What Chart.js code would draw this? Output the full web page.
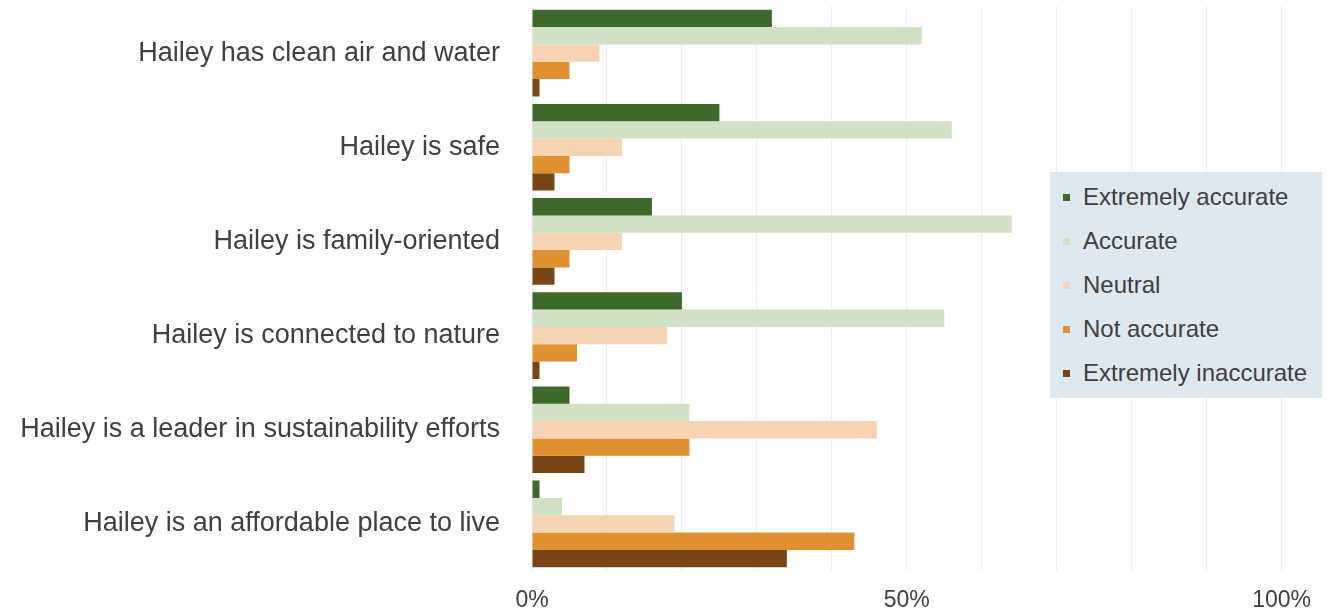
<!DOCTYPE html>
<html>
<head>
<meta charset="utf-8">
<script src="https://cdn.jsdelivr.net/npm/chart.js@4"></script>
<style>
  html, body { margin: 0; padding: 0; background: #fff; }
  #wrap { position: relative; width: 1327px; height: 613px; }
  #legend {
    position: absolute; left: 1050px; top: 172px; width: 272px; height: 226px;
    background: #dde8f1; box-sizing: border-box; padding: 3px 0 0 13px;
    font-family: "Liberation Sans", Arial, sans-serif; font-size: 24px; color: #404040;
  }
  #legend div { height: 44px; display: flex; align-items: center; }
  #legend span.sq { width: 7px; height: 7px; margin-right: 13px; display: inline-block; }
</style>
</head>
<body>
<div id="wrap">
  <canvas id="myChart" width="1327" height="613"></canvas>
  <div id="legend"></div>
</div>
<script>
// categories and series
const categories = [
  'Hailey has clean air and water',
  'Hailey is safe',
  'Hailey is family-oriented',
  'Hailey is connected to nature',
  'Hailey is a leader in sustainability efforts',
  'Hailey is an affordable place to live'
];
const seriesNames = ['Extremely accurate', 'Accurate', 'Neutral', 'Not accurate', 'Extremely inaccurate'];
const extremelyAccurate = [32, 25, 16, 20, 5, 1];
const accurate = [52, 56, 64, 55, 21, 4];
const neutral = [9, 12, 12, 18, 46, 19];
const notAccurate = [5, 5, 5, 6, 21, 43];
const extremelyInaccurate = [1, 3, 3, 1, 7, 34];
const colors = ['#3d6a2a', '#d0e1c5', '#f6d4b3', '#df9131', '#774516'];
const tickLabels = { 0: '0%', 50: '50%', 100: '100%' };

const values = [extremelyAccurate, accurate, neutral, notAccurate, extremelyInaccurate];

const ctx = document.getElementById('myChart');
new Chart(ctx, {
  type: 'bar',
  data: {
    labels: categories,
    datasets: seriesNames.map((name, i) => ({
      label: name,
      data: values[i],
      backgroundColor: colors[i],
      borderWidth: 0,
      barPercentage: 1.0,
      categoryPercentage: 0.92
    }))
  },
  options: {
    indexAxis: 'y',
    responsive: false,
    animation: false,
    layout: { padding: { top: 6, right: 41, bottom: 0, left: 0 } },
    plugins: { legend: { display: false }, tooltip: { enabled: false } },
    scales: {
      x: {
        min: 0, max: 100,
        afterFit: (s) => { s.height = 42; },
        border: { display: false },
        grid: { color: '#eeeeee', drawTicks: false },
        ticks: {
          stepSize: 10, padding: 16, maxRotation: 0, autoSkip: false,
          color: '#404040',
          font: { family: 'Liberation Sans', size: 23 },
          callback: (v) => tickLabels[v] || ''
        }
      },
      y: {
        afterFit: (s) => { s.width = 532; s.paddingTop = 0; s.paddingBottom = 0; },
        border: { display: false },
        grid: { display: false },
        ticks: {
          padding: 24,
          color: '#404040',
          font: { family: 'Liberation Sans', size: 27 }
        }
      }
    }
  }
});

// legend box
const leg = document.getElementById('legend');
seriesNames.forEach((name, i) => {
  const row = document.createElement('div');
  const sq = document.createElement('span');
  sq.className = 'sq';
  sq.style.background = colors[i];
  row.appendChild(sq);
  row.appendChild(document.createTextNode(name));
  leg.appendChild(row);
});
</script>
</body>
</html>
